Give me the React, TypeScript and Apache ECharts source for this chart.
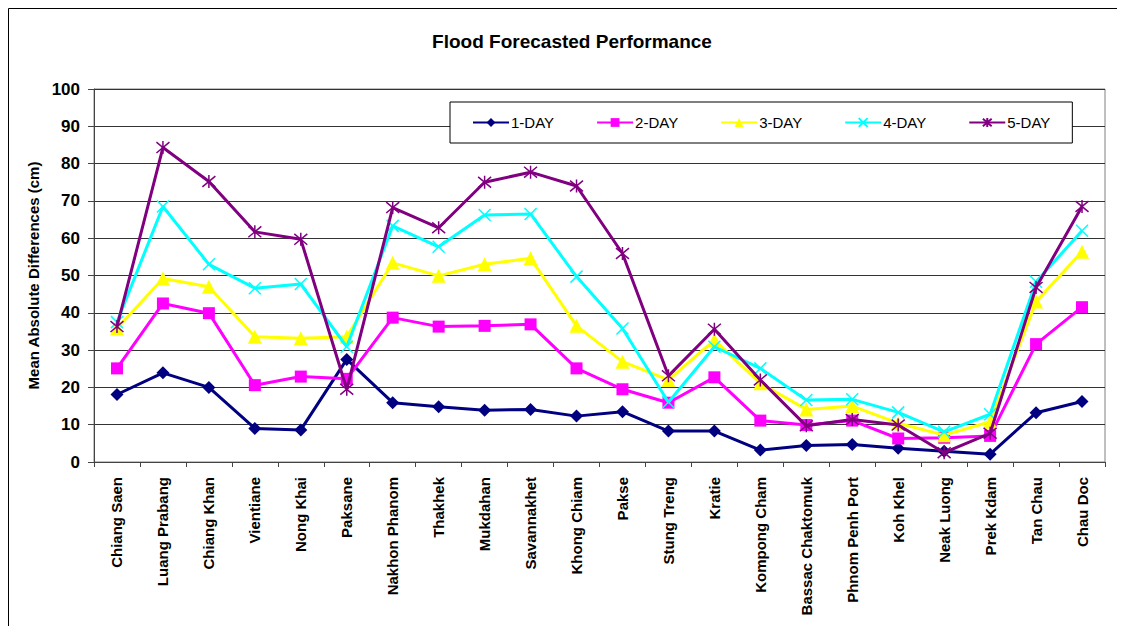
import React, { useEffect, useRef } from "react";
import * as echarts from "echarts";

const categories = [
  "Chiang Saen", "Luang Prabang", "Chiang Khan", "Vientiane", "Nong Khai", "Paksane",
  "Nakhon Phanom", "Thakhek", "Mukdahan", "Savannakhet", "Khong Chiam", "Pakse",
  "Stung Treng", "Kratie", "Kompong Cham", "Bassac Chaktomuk", "Phnom Penh Port",
  "Koh Khel", "Neak Luong", "Prek Kdam", "Tan Chau", "Chau Doc",
];

const day1 = [18.1, 23.9, 20.0, 9.0, 8.6, 27.5, 15.9, 14.8, 13.9, 14.1, 12.3, 13.5, 8.3, 8.3, 3.2, 4.4, 4.7, 3.7, 2.9, 2.1, 13.2, 16.2];
const day2 = [25.1, 42.5, 39.9, 20.6, 22.9, 22.3, 38.7, 36.3, 36.5, 36.9, 25.1, 19.5, 15.9, 22.7, 11.1, 9.9, 11.1, 6.3, 6.5, 7.0, 31.6, 41.5];
const day3 = [35.8, 49.2, 47.0, 33.6, 33.2, 33.6, 53.4, 49.9, 53.0, 54.6, 36.5, 26.9, 22.0, 32.7, 21.1, 14.1, 15.0, 10.4, 7.2, 10.8, 43.0, 56.4];
const day4 = [37.5, 68.5, 53.0, 46.6, 47.7, 30.9, 63.3, 57.7, 66.2, 66.5, 49.7, 35.8, 16.0, 30.9, 25.1, 16.6, 16.8, 13.3, 8.1, 12.8, 48.3, 62.0];
const day5 = [36.3, 84.3, 75.2, 61.7, 59.7, 19.5, 68.2, 62.8, 75.0, 77.7, 74.0, 55.9, 23.1, 35.6, 22.0, 9.7, 11.4, 9.9, 2.5, 7.7, 46.8, 68.5];

const seriesNames = ["1-DAY", "2-DAY", "3-DAY", "4-DAY", "5-DAY"];
const seriesData = [day1, day2, day3, day4, day5];
const colors = ["#000080", "#FF00FF", "#FFFF00", "#00FFFF", "#800080"];
const symbols = [
  "diamond",
  "rect",
  "triangle",
  "path://M0,0L10,10M10,0L0,10",
  "path://M0,0L10,10M10,0L0,10M5,-1L5,11",
];
const symbolSizes = [13, 12, 14, 12, 13];

const FONT = "'Liberation Sans', Arial, sans-serif";

export default function App() {
  const ref = useRef<HTMLDivElement>(null);

  useEffect(() => {
    if (!ref.current) return;
    const chart = echarts.init(ref.current, undefined, { renderer: "svg" });
    const series = seriesNames.map((name, i) => {
      const stroked = i >= 3;
      return {
        name,
        type: "line",
        data: seriesData[i],
        symbol: symbols[i],
        symbolSize: symbolSizes[i],
        lineStyle: { color: colors[i], width: 3 },
        itemStyle: stroked
          ? { color: colors[i], borderColor: colors[i], borderWidth: 1.5 }
          : { color: colors[i], borderWidth: 0 },
        z: 2 + i,
      };
    });
    chart.setOption({
      animation: false,
      backgroundColor: "#ffffff",
      title: {
        text: "Flood Forecasted Performance",
        left: 559,
        textAlign: "center",
        top: 19,
        textStyle: { fontFamily: FONT, fontSize: 19, fontWeight: "bold", color: "#000" },
      },
      graphic: [
        {
          type: "rect",
          shape: { x: 0.5, y: 0.5, width: 1300, height: 800 },
          style: { fill: "none", stroke: "#000", lineWidth: 1 },
          silent: true,
        },
      ],
      legend: {
        left: 442,
        top: 94,
        width: 640,
        padding: [13, 22, 13, 22],
        itemGap: 42,
        itemWidth: 36,
        itemHeight: 11,
        backgroundColor: "#ffffff",
        borderColor: "#000",
        borderWidth: 1,
        z: 10,
        textStyle: { fontFamily: FONT, fontSize: 15, color: "#000", padding: [0, 0, 0, -3] },
        data: seriesNames,
      },
      grid: {
        left: 86,
        top: 81,
        right: 20,
        bottom: 164,
        show: true,
        borderColor: "#808080",
        borderWidth: 1,
      },
      xAxis: {
        type: "category",
        data: categories,
        boundaryGap: true,
        axisLine: { lineStyle: { color: "#444", width: 1 } },
        axisTick: { show: true, inside: false, length: 5, lineStyle: { color: "#444" } },
        axisLabel: {
          rotate: 90,
          interval: 0,
          margin: 15,
          fontFamily: FONT,
          fontSize: 15,
          fontWeight: "bold",
          color: "#000",
        },
      },
      yAxis: {
        type: "value",
        min: 0,
        max: 100,
        interval: 10,
        name: "Mean Absolute Differences (cm)",
        nameLocation: "middle",
        nameGap: 51,
        nameTextStyle: { fontFamily: FONT, fontSize: 15, fontWeight: "bold", color: "#000" },
        axisLine: { show: true, lineStyle: { color: "#444", width: 1 } },
        axisTick: { show: true, inside: false, length: 6, lineStyle: { color: "#444" } },
        axisLabel: {
          margin: 14,
          fontFamily: FONT,
          fontSize: 17,
          fontWeight: "bold",
          color: "#000",
        },
        splitLine: { show: true, lineStyle: { color: "#333", width: 1 } },
      },
      series,
    });
    return () => chart.dispose();
  }, []);

  return <div ref={ref} style={{ width: 1117, height: 618 }} />;
}
